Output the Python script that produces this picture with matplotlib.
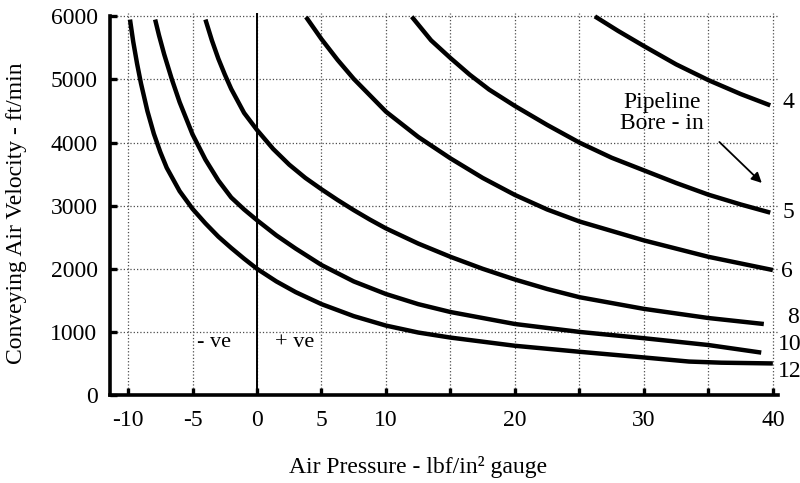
import numpy as np
import matplotlib
matplotlib.use("Agg")
import matplotlib.pyplot as plt

# pressure (lbf/in2 gauge) vs conveying air velocity (ft/min)
p_4 = [26.2, 28.0, 30.0, 32.5, 35.0, 37.5, 39.8]
v_4 = [6000, 5770, 5530, 5240, 4990, 4770, 4590]

p_5 = [12.0, 13.5, 15.0, 16.5, 18.0, 20.0, 22.5, 25.0, 27.5, 30.0, 32.5, 35.0, 37.5, 39.8]
v_5 = [5995, 5620, 5340, 5075, 4840, 4580, 4280, 4000, 3760, 3560, 3360, 3175, 3020, 2890]

p_6 = [3.8, 5.0, 6.25, 7.5, 10.0, 12.5, 15.0, 17.5, 20.0, 22.5, 25.0, 30.0, 35.0, 40.0]
v_6 = [5990, 5640, 5310, 5010, 4490, 4090, 3750, 3440, 3170, 2940, 2750, 2450, 2190, 1980]

p_8 = [-4.0, -3.5, -3.0, -2.5, -2.0, -1.0, 0.0, 1.25, 2.5, 3.75, 5.0, 6.25, 7.5, 8.75,
       10.0, 12.5, 15.0, 17.5, 20.0, 22.5, 25.0, 30.0, 35.0, 39.3]
v_8 = [5950, 5620, 5330, 5080, 4850, 4470, 4200, 3900, 3650, 3440, 3260, 3090, 2930, 2780,
       2640, 2400, 2190, 2000, 1830, 1680, 1550, 1365, 1220, 1125]

p_10 = [-7.9, -7.6, -7.2, -6.6, -6.0, -5.0, -4.0, -3.0, -2.0, -1.0, 0.0, 1.5, 3.0, 5.0,
        7.5, 10.0, 12.5, 15.0, 20.0, 25.0, 30.0, 35.0, 39.1]
v_10 = [5950, 5700, 5400, 5000, 4640, 4130, 3730, 3400, 3130, 2940, 2770, 2530, 2320, 2060,
        1800, 1600, 1440, 1315, 1125, 1000, 900, 792, 672]

p_12 = [-9.85, -9.6, -9.3, -9.0, -8.5, -8.0, -7.5, -7.0, -6.0, -5.0, -4.0, -3.0, -2.0, -1.0,
        0.0, 1.5, 3.0, 5.0, 7.5, 10.0, 12.5, 15.0, 20.0, 25.0, 30.0, 33.5, 36.0, 40.0]
v_12 = [5950, 5600, 5250, 4940, 4500, 4140, 3850, 3600, 3230, 2950, 2720, 2510, 2330, 2160,
        2000, 1800, 1630, 1440, 1250, 1100, 990, 910, 780, 685, 595, 530, 512, 500]

bores = ["4", "5", "6", "8", "10", "12"]
curves = [(p_4, v_4), (p_5, v_5), (p_6, v_6), (p_8, v_8), (p_10, v_10), (p_12, v_12)]
# where each bore label sits (just past the line end)
label_pos = [(40.75, 4630), (40.75, 2900), (40.6, 1950), (41.1, 1236), (40.4, 808), (40.4, 380)]

xticks = [-10, -5, 0, 5, 10, 15, 20, 25, 30, 35, 40]
xticklabels = ["-10", "-5", "0", "5", "10", "", "20", "", "30", "", "40"]
yticks = [0, 1000, 2000, 3000, 4000, 5000, 6000]

plt.rcParams["font.family"] = ["Liberation Serif", "DejaVu Serif"]

fig = plt.figure(figsize=(8.0, 4.83), dpi=100)
ax = fig.add_axes([0.1375, 0.1822, 0.835, 0.7917])

for (p, v) in curves:
    ax.plot(p, v, color="black", lw=3.2, solid_capstyle="butt",
            solid_joinstyle="round", zorder=3)

for name, (lx, ly) in zip(bores, label_pos):
    ax.text(lx, ly, name, fontsize=17, ha="left", va="center", clip_on=False)

ax.axvline(0, color="black", lw=1.4, zorder=2)

ax.text(-3.3, 830, "- ve", fontsize=16, ha="center", va="center")
ax.text(2.9, 830, "+ ve", fontsize=16, ha="center", va="center")
ax.text(31.4, 4470, "Pipeline\nBore - in", fontsize=17, ha="center", va="center",
        linespacing=1.05)
ax.annotate("", xy=(39.3, 3330), xytext=(35.7, 4040),
            arrowprops=dict(arrowstyle="-|>", color="black", lw=1.3,
                            mutation_scale=15))

ax.set_xlim(-11.4, 40.4)
ax.set_ylim(0, 6060)
ax.set_xticks(xticks)
ax.set_xticklabels(xticklabels)
ax.set_yticks(yticks)

ax.grid(True, which="major", linestyle=":", color="0.3", lw=0.9)
ax.set_axisbelow(True)

for side in ["top", "right"]:
    ax.spines[side].set_visible(False)
ax.spines["left"].set_linewidth(2.6)
ax.spines["bottom"].set_linewidth(2.6)
ax.spines["left"].set_bounds(0, 6000)

ax.tick_params(axis="both", direction="in", length=5, width=2.4, labelsize=17)
ax.tick_params(axis="x", pad=11)
ax.tick_params(axis="y", pad=9)

fig.text(418 / 800, 1 - 467 / 483, "Air Pressure - lbf/in² gauge", fontsize=17,
         ha="center", va="center")
fig.text(17 / 800, 1 - 213 / 483, "Conveying Air Velocity - ft/min", fontsize=17,
         ha="center", va="center", rotation=90)

fig.savefig("out.png", dpi=100)
